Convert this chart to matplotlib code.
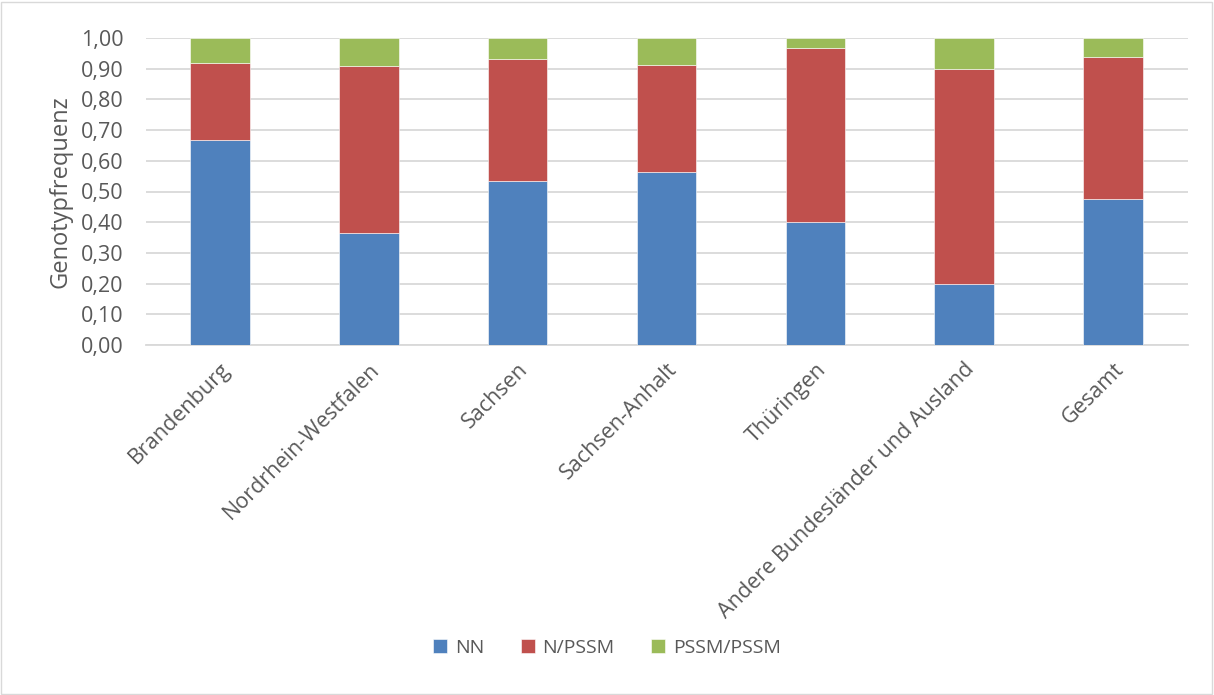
import matplotlib.pyplot as plt
from matplotlib.patches import Rectangle
import numpy as np

regions = ['Brandenburg', 'Nordrhein-Westfalen', 'Sachsen', 'Sachsen-Anhalt',
           'Thüringen', 'Andere Bundesländer und Ausland', 'Gesamt']
nn = [0.667, 0.364, 0.533, 0.565, 0.400, 0.200, 0.475]
n_pssm = [0.250, 0.545, 0.400, 0.348, 0.567, 0.700, 0.464]
pssm_pssm = [0.083, 0.091, 0.067, 0.087, 0.033, 0.100, 0.061]
series_names = ['NN', 'N/PSSM', 'PSSM/PSSM']
colors = ['#4f81bd', '#c0504d', '#9bbb59']

plt.rcParams['font.family'] = ['Open Sans', 'DejaVu Sans']

fig = plt.figure(figsize=(12.14, 6.95), dpi=100)
ax = fig.add_axes([145.5 / 1214, 1 - 345 / 695, (1187.5 - 145.5) / 1214, (345 - 38) / 695])

# light frame around the whole chart
fig.patches.append(Rectangle((1 / 1214, 1 / 695), 1 - 3 / 1214, 1 - 3 / 695,
                             transform=fig.transFigure, fill=False,
                             edgecolor='#d9d9d9', linewidth=1))

x = np.arange(len(regions))
bottom = np.zeros(len(regions))
for name, vals, col in zip(series_names, [nn, n_pssm, pssm_pssm], colors):
    ax.bar(x, vals, 0.4, bottom=bottom, color=col, label=name,
           edgecolor='white', linewidth=0.4, zorder=3)
    bottom += np.array(vals)

ax.set_xlim(-0.5, len(regions) - 0.5)
ax.set_ylim(0, 1.0)
yt = np.arange(0, 1.01, 0.1)
ax.set_yticks(yt)
ax.set_yticklabels([f'{v:.2f}'.replace('.', ',') for v in yt])
ax.yaxis.grid(True, color='#d9d9d9', linewidth=1.3, zorder=0)
ax.set_axisbelow(True)
for s in ['top', 'right', 'left']:
    ax.spines[s].set_visible(False)
ax.spines['bottom'].set_color('#d9d9d9')
ax.spines['bottom'].set_linewidth(1.3)
ax.tick_params(axis='both', length=0, labelsize=15.5, colors='#595959')
ax.tick_params(axis='y', pad=16)

ax.set_xticks(x)
ax.set_xticklabels(regions, rotation=45, ha='right', rotation_mode='anchor')
ax.tick_params(axis='x', pad=10)

ax.set_ylabel('Genotypfrequenz', fontsize=17, color='#595959', labelpad=6)

fig.legend(loc='center', bbox_to_anchor=(0.5, 1 - 648 / 695), ncol=3, frameon=False,
           fontsize=14, handlelength=0.7, handleheight=0.7, handletextpad=0.4,
           columnspacing=1.9, labelcolor='#595959')

fig.savefig('out.png', dpi=100)
